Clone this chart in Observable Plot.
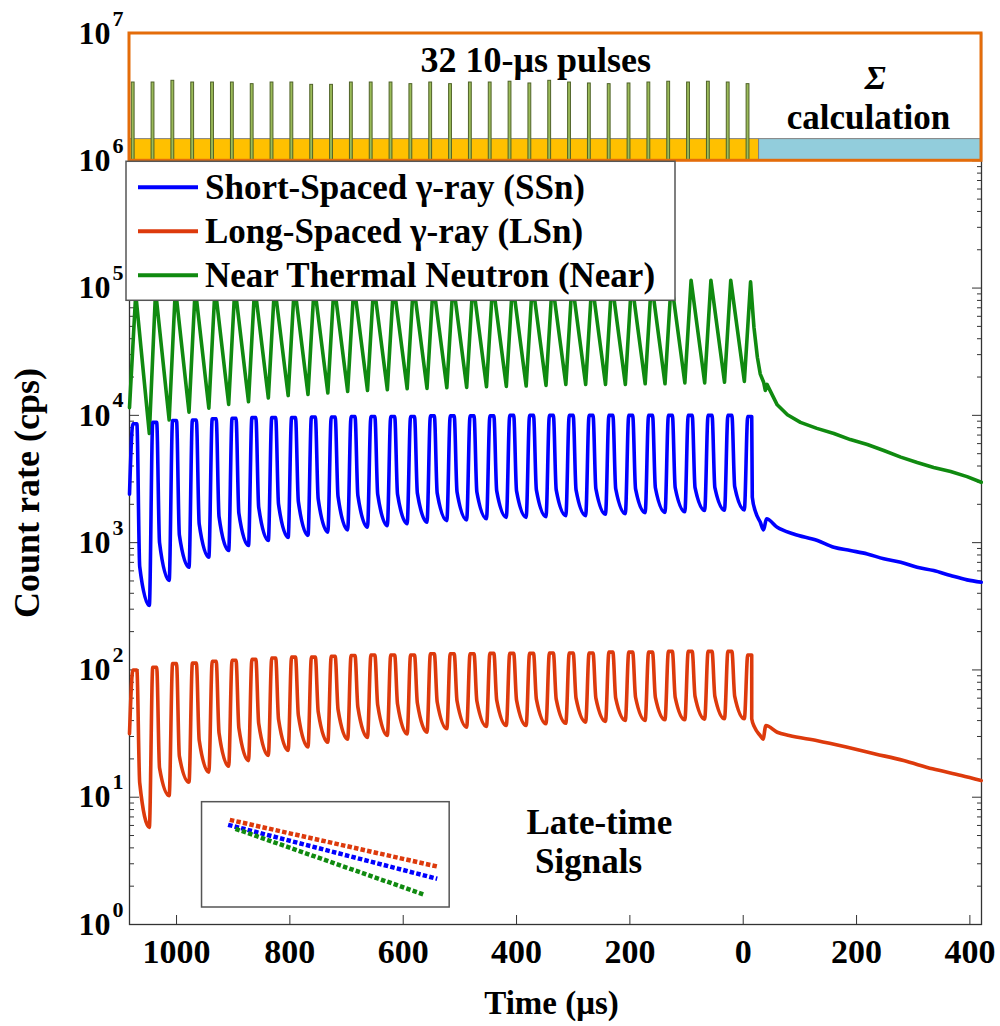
<!DOCTYPE html>
<html>
<head>
<meta charset="utf-8">
<script src="https://cdn.jsdelivr.net/npm/d3@7"></script>
<script src="https://cdn.jsdelivr.net/npm/@observablehq/plot@0.6"></script>
<style>
  body { margin: 0; background: #fff; }
  svg { display: block; }
</style>
</head>
<body>
<div id="chart"></div>
<script>
// ---- colours -------------------------------------------------------------
const blue = "#0000ff", red = "#dd3a0c", green = "#108a10";

// ---- axes ----------------------------------------------------------------
const timeRange = [-1083, 420.5];            // µs, pulse train ends at 0
const xTicks = [-1000, -800, -600, -400, -200, 0, 200, 400];
const decades = [0, 1, 2, 3, 4, 5, 6, 7];
const yMajor = decades.map(d => 10 ** d);
const yMinor = decades.slice(0, 6).flatMap(d => [2, 3, 4, 5, 6, 7, 8, 9].map(m => m * 10 ** d));

// ---- pulse schedule (start of each 10-µs burst, µs) ----------------------
const pulseStart = [-1083, -1048, -1013, -978, -943, -908, -873, -838, -803, -768, -733,
  -698, -663, -628, -593, -558, -523, -488, -453, -418, -383, -348, -313, -278, -243,
  -208, -173, -138, -103, -68, -33, 2];
const pulseBarTop = [4.12e6, 4.12e6, 4.25e6, 4.12e6, 4.12e6, 4.12e6, 4.0e6, 4.12e6, 4.12e6,
  3.95e6, 3.95e6, 4.12e6, 4.12e6, 4.12e6, 4.0e6, 4.12e6, 4.0e6, 4.12e6, 4.12e6, 4.18e6,
  4.05e6, 4.25e6, 4.12e6, 4.05e6, 4.0e6, 4.05e6, 4.12e6, 4.18e6, 4.12e6, 4.18e6, 4.12e6, 4.0e6];

// ---- Short-spaced gamma (SSn), cps ---------------------------------------
const ssnStart = 2400;
const ssnPeak = [8600, 8800, 9100, 9200, 9400, 9500, 9600, 9600, 9600, 9700, 9700, 9800,
  9800, 9800, 9800, 9900, 9900, 9900, 9900, 10000, 10000, 10000, 10000, 10000, 10000,
  10000, 10000, 10000, 10000, 10000, 10000, 9800];
const ssnKnee = [650, 1000, 1150, 1400, 1600, 1700, 1900, 2000, 2100, 2200, 2300, 2350,
  2400, 2400, 2450, 2450, 2500, 2500, 2550, 2550, 2600, 2600, 2600, 2650, 2650, 2650,
  2700, 2700, 2700, 2700, 2750];
const ssnTrough = [321, 504, 641, 768, 867, 949, 1040, 1100, 1140, 1210, 1260, 1320, 1360,
  1410, 1450, 1490, 1510, 1540, 1580, 1580, 1600, 1630, 1630, 1670, 1690, 1720, 1730,
  1750, 1790, 1800, 1810];
const ssnTailTime = [16, 22, 30, 36, 41, 60, 89, 131, 160, 189, 219, 248, 278, 307, 336, 366, 395, 420];
const ssnTail = [2280, 1730, 1450, 1260, 1540, 1320, 1170, 1040, 920, 867, 816, 746, 702,
  641, 604, 552, 510, 489];

// ---- Long-spaced gamma (LSn), cps ----------------------------------------
const lsnStart = 31.6;
const lsnPeak = [100, 105, 112, 113, 117, 119, 121, 124, 126, 126, 128, 130, 131, 131, 131,
  134, 134, 134, 135, 135, 135, 136, 136, 136, 138, 138, 138, 140, 140, 140, 140, 131];
const lsnKnee = [13, 17, 21, 28, 32, 35, 38, 41, 44, 47, 49, 51, 53, 54, 55, 56, 57, 57, 58,
  58, 59, 59, 60, 60, 60, 61, 61, 61, 62, 62, 62];
const lsnTrough = [5.8, 10.3, 13.1, 15.7, 17.5, 19.4, 21.3, 23.3, 24.8, 27.0, 28.6, 29.5,
  30.5, 31.4, 32.4, 34.5, 35.5, 35.9, 36.6, 36.6, 37.8, 38.1, 38.9, 39.4, 40.1, 40.1,
  40.6, 40.6, 41.1, 41.3, 41.3];
const lsnTailTime = [15, 20, 30, 35, 40, 60, 81, 131, 182, 233, 283, 334, 385, 420];
const lsnTail = [41.3, 35.5, 30.5, 28.6, 36.6, 32.4, 30.5, 27.8, 24.8, 21.9, 19.4, 16.7, 14.8, 13.5];

// ---- Near thermal neutron, cps -------------------------------------------
const nearStart = 11500;
const nearPeak = [90000, 95000, 100000, 100000, 102000, 103000, 104000, 105000, 106000,
  106000, 107000, 107000, 108000, 108000, 109000, 109000, 110000, 110000, 110000, 111000,
  111000, 111000, 112000, 112000, 112000, 113000, 113000, 113000, 115000, 115000, 115000, 112000];
const nearTrough = [7200, 9200, 10600, 11400, 12200, 12800, 13700, 14300, 14600, 15000,
  15400, 15700, 15900, 16200, 16300, 16500, 16600, 16800, 16900, 17000, 17200, 17500,
  17500, 17500, 17500, 17700, 17700, 18000, 18000, 18200, 18500];
const nearTailTime = [19, 25, 30, 36, 39, 42, 60, 78, 101, 130, 160, 189, 219, 248, 278, 307, 336, 366, 395, 420];
const nearTail = [49000, 28600, 21200, 18200, 15700, 17500, 12100, 10100, 8800, 7900, 7200,
  6450, 5900, 5300, 4700, 4260, 3900, 3620, 3300, 2980];

// ---- schematic of the late-time decays (inset) ---------------------------
const insetBox = {t1: -955, t2: -518, lo: 1.36, hi: 9.14};
const lateDecays = [
  {name: "LSn",  color: red,   t: [-906, -540], v: [6.64, 2.855]},
  {name: "SSn",  color: blue,  t: [-909, -540], v: [6.07, 2.286]},
  {name: "Near", color: green, t: [-896, -562], v: [5.65, 1.711]}
];

// ---- timing diagram ------------------------------------------------------
const phases = [
  {name: "pulses",      t1: timeRange[0], t2: 28,           lo: 1e6, hi: 1.48e6, fill: "#ffc000"},
  {name: "calculation", t1: 28,           t2: timeRange[1], lo: 1e6, hi: 1.48e6, fill: "#92cddc"}
];
const notes = [
  {text: "32 10-μs pulses", t: -366, v: 4.94e6, size: 36},
  {text: "calculation",     t: 221,  v: 1.77e6, size: 35},
  {text: "Late-time",       t: -254, v: 5.18,   size: 35},
  {text: "Signals",         t: -273, v: 2.52,   size: 35}
];
const sigmaNote = {text: "Σ", t: 233, v: 3.68e6};

const legendItems = [
  {label: "Short-Spaced γ-ray (SSn)",   color: blue},
  {label: "Long-Spaced γ-ray (LSn)",    color: red},
  {label: "Near Thermal Neutron (Near)", color: green}
];

// ---- build polylines from per-pulse readings -----------------------------
function gammaCurve(start, peak, knee, trough, tailT, tailV) {
  const pts = [{t: pulseStart[0], v: start}];
  pulseStart.forEach((s, k) => {
    pts.push({t: s + 6, v: peak[k]}, {t: s + 13, v: peak[k]});
    if (k < pulseStart.length - 1) {
      pts.push({t: s + 18, v: knee[k]}, {t: pulseStart[k + 1], v: trough[k]});
    }
  });
  tailT.forEach((t, i) => pts.push({t, v: tailV[i]}));
  return pts;
}
function neutronCurve(start, peak, trough, tailT, tailV) {
  const pts = [{t: pulseStart[0], v: start}];
  pulseStart.forEach((s, k) => {
    pts.push({t: s + 11, v: peak[k]});
    if (k < pulseStart.length - 1) pts.push({t: pulseStart[k + 1], v: trough[k]});
  });
  tailT.forEach((t, i) => pts.push({t, v: tailV[i]}));
  return pts;
}

const ssn = gammaCurve(ssnStart, ssnPeak, ssnKnee, ssnTrough, ssnTailTime, ssnTail);
const lsn = gammaCurve(lsnStart, lsnPeak, lsnKnee, lsnTrough, lsnTailTime, lsnTail);
const near = neutronCurve(nearStart, nearPeak, nearTrough, nearTailTime, nearTail);

const bars = pulseStart.map((s, k) => ({t1: s + 4, t2: s + 9, lo: 1e6, hi: pulseBarTop[k]}));
const lateLines = lateDecays.flatMap(d => d.t.map((t, i) => ({name: d.name, color: d.color, t, v: d.v[i]})));

const axisInk = "#333";
const blank = () => "";
const traceWidth = 3.6;

const chart = Plot.plot({
  width: 1000,
  height: 1026,
  marginLeft: 129,
  marginRight: 19,
  marginTop: 33,
  marginBottom: 102,
  style: {fontFamily: "'Liberation Serif', 'Times New Roman', serif", background: "#fff", color: "#000", overflow: "visible"},
  x: {domain: timeRange},
  y: {type: "log", domain: [1, 1e7]},
  marks: [
    Plot.frame({stroke: axisInk, strokeWidth: 1.3}),
    Plot.axisX({ticks: xTicks, tickSize: -9, tickPadding: 23, tickFormat: d => String(Math.abs(d)),
      fontSize: 34, fontWeight: "bold", stroke: axisInk, fill: "#000", label: null}),
    Plot.axisY({anchor: "left", ticks: yMajor, tickSize: -10, tickFormat: blank, stroke: axisInk, label: null}),
    Plot.axisY({anchor: "left", ticks: yMinor, tickSize: -5, tickFormat: blank, stroke: axisInk, label: null}),
    Plot.axisY({anchor: "right", ticks: yMajor, tickSize: -10, tickFormat: blank, stroke: axisInk, label: null}),
    Plot.axisY({anchor: "right", ticks: yMinor, tickSize: -5, tickFormat: blank, stroke: axisInk, label: null}),

    // decade labels 10^n
    Plot.text(decades, {y: d => 10 ** d, text: () => "10", frameAnchor: "left", textAnchor: "end",
      dx: -19, fontSize: 32, fontWeight: "bold", lineAnchor: "middle"}),
    Plot.text(decades, {y: d => 10 ** d, text: d => String(d), frameAnchor: "left", textAnchor: "end",
      dx: -6, dy: -15, fontSize: 22, fontWeight: "bold", lineAnchor: "middle"}),

    // count-rate traces
    Plot.line(near, {x: "t", y: "v", stroke: green, strokeWidth: traceWidth, strokeLinejoin: "round"}),
    Plot.line(ssn, {x: "t", y: "v", stroke: blue, strokeWidth: traceWidth, strokeLinejoin: "round", curve: "monotone-x"}),
    Plot.line(lsn, {x: "t", y: "v", stroke: red, strokeWidth: traceWidth, strokeLinejoin: "round", curve: "monotone-x"}),

    // late-time inset
    Plot.rect([insetBox], {x1: "t1", x2: "t2", y1: "lo", y2: "hi", fill: "#fff", stroke: "#555", strokeWidth: 1.5}),
    Plot.line(lateLines, {x: "t", y: "v", z: "name", stroke: "color", strokeWidth: 4.5,
      strokeDasharray: "4.5,2.2", strokeLinecap: "butt"}),

    // timing diagram
    Plot.rect([{t1: timeRange[0], t2: timeRange[1], lo: 1e6, hi: 1e7}], {x1: "t1", x2: "t2", y1: "lo", y2: "hi", fill: "#fff"}),
    Plot.rect(phases, {x1: "t1", x2: "t2", y1: "lo", y2: "hi", fill: "fill", stroke: "#808080", strokeWidth: 1}),
    Plot.rect(bars, {x1: "t1", x2: "t2", y1: "lo", y2: "hi", fill: "#9bbb59", stroke: "#4f6228", strokeWidth: 1}),
    Plot.rect([{t1: timeRange[0], t2: timeRange[1], lo: 1e6, hi: 1e7}], {x1: "t1", x2: "t2", y1: "lo", y2: "hi",
      fill: "none", stroke: "#e46c0a", strokeWidth: 3}),

    Plot.text(notes, {x: "t", y: "v", text: "text", fontSize: "size", fontWeight: "bold",
      lineAnchor: "bottom", fill: "#000"}),
    Plot.text([sigmaNote], {x: "t", y: "v", text: "text", fontSize: 34, fontWeight: "bold",
      fontStyle: "italic", lineAnchor: "bottom", fill: "#000"}),

    // axis titles
    Plot.text(["Count rate (cps)"], {frameAnchor: "left", textAnchor: "middle", rotate: -90, dx: -102, dy: 14,
      fontSize: 36, fontWeight: "bold", lineAnchor: "middle"}),
    Plot.text(["Time (μs)"], {frameAnchor: "bottom", dx: -4, dy: 89, lineAnchor: "bottom", fontSize: 33,
      fontWeight: "bold"})
  ]
});

document.getElementById("chart").appendChild(chart);

// ---- legend inside the plot, just under the timing diagram ---------------
const yScale = chart.scale("y");
const svg = d3.select(chart);
const legendTop = yScale.apply(1e6) + 1;
const lg = svg.append("g").attr("transform", `translate(126,${legendTop})`);
lg.append("rect").attr("width", 549).attr("height", 139)
  .attr("fill", "#fff").attr("stroke", "#555").attr("stroke-width", 1.5);
legendItems.forEach((d, i) => {
  const yy = 26 + i * 44;
  lg.append("line").attr("x1", 12).attr("x2", 72).attr("y1", yy).attr("y2", yy)
    .attr("stroke", d.color).attr("stroke-width", 4);
  lg.append("text").attr("x", 79).attr("y", yy + 12).attr("text-anchor", "start").text(d.label)
    .attr("font-size", 35).attr("font-weight", "bold").attr("fill", "#000");
});
</script>
</body>
</html>
